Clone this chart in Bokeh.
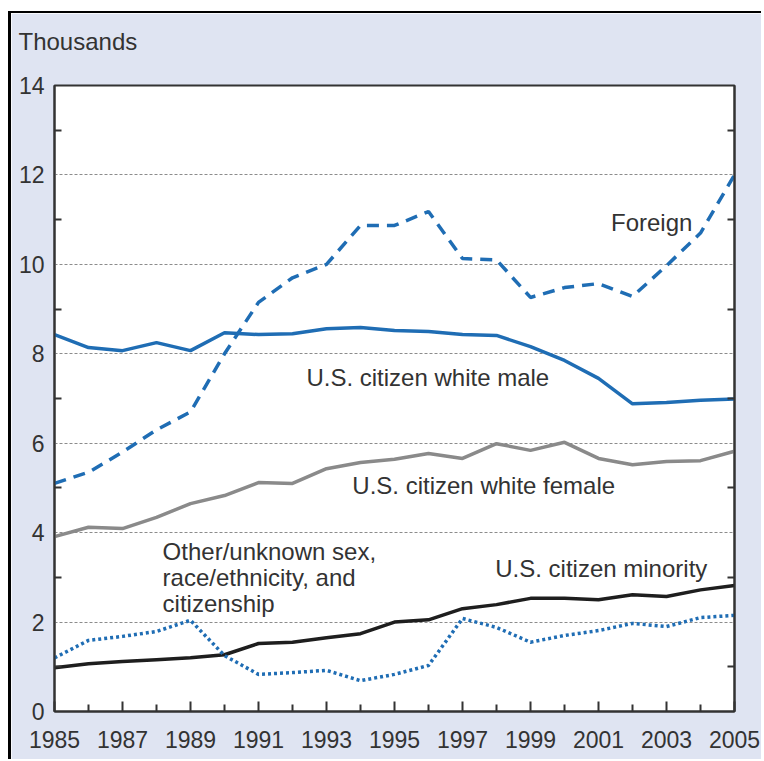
from bokeh.plotting import figure
from bokeh.models import FixedTicker, LinearAxis, Label, InlineStyleSheet
from bokeh.embed import file_html
from bokeh.resources import INLINE

years = list(range(1985, 2006))
foreign = [5.1, 5.35, 5.8, 6.3, 6.7, 8.0, 9.15, 9.7, 10.0, 10.87, 10.87, 11.18,
           10.13, 10.1, 9.26, 9.48, 9.57, 9.28, 9.97, 10.7, 12.0]
white_male = [8.43, 8.14, 8.07, 8.25, 8.07, 8.47, 8.43, 8.45, 8.56, 8.59, 8.52, 8.5,
              8.43, 8.41, 8.16, 7.85, 7.45, 6.88, 6.91, 6.96, 6.99]
white_female = [3.91, 4.12, 4.09, 4.34, 4.65, 4.83, 5.12, 5.1, 5.43, 5.57, 5.64, 5.77,
                5.66, 5.99, 5.84, 6.02, 5.66, 5.52, 5.59, 5.61, 5.82]
minority = [0.98, 1.07, 1.12, 1.16, 1.2, 1.27, 1.52, 1.55, 1.65, 1.74, 2.0, 2.05,
            2.3, 2.39, 2.53, 2.53, 2.5, 2.61, 2.57, 2.72, 2.82]
other = [1.2, 1.59, 1.68, 1.79, 2.04, 1.25, 0.83, 0.87, 0.92, 0.69, 0.83, 1.03,
         2.08, 1.88, 1.55, 1.7, 1.81, 1.97, 1.9, 2.1, 2.15]

x_major = [1985, 1987, 1989, 1991, 1993, 1995, 1997, 1999, 2001, 2003, 2005]
x_minor = [1986, 1988, 1990, 1992, 1994, 1996, 1998, 2000, 2002, 2004]
y_major = [0, 2, 4, 6, 8, 10, 12, 14]
y_minor = [1, 3, 5, 7, 9, 11, 13]
y_grid = [2, 4, 6, 8, 10, 12]

BLUE = "#1f6db4"
GRAY = "#8a8a8a"
BLACK = "#1e1e1e"
TXT = "#333333"
BG = "#dfe4f2"
FONT = "Liberation Sans"
FS = "24px"
TFS = "23px"

css = InlineStyleSheet(css=":host { margin-top: 11px; margin-left: 8px; border-top: 2px solid black; border-left: 3px solid black; }")

p = figure(width=753, height=748, x_range=(1985, 2005), y_range=(0, 14),
           output_backend="svg", toolbar_location=None,
           min_border_left=43, min_border_right=30, min_border_top=72, min_border_bottom=50,
           background_fill_color="white", border_fill_color=BG)
p.stylesheets = [css]
p.outline_line_color = "#333333"
p.outline_line_width = 2

p.title.text = "Thousands"
p.title.text_font = FONT
p.title.text_font_size = FS
p.title.text_font_style = "normal"
p.title.text_color = TXT
p.title.align = "left"
p.title.offset = -36
p.title.standoff = 0
p.title.padding = dict(left=0, right=0, top=0, bottom=31)

p.xgrid.visible = False
p.ygrid.ticker = FixedTicker(ticks=y_grid)
p.ygrid.grid_line_color = "#8c8c8c"
p.ygrid.grid_line_dash = "3 2"
p.ygrid.grid_line_width = 1

xa = p.xaxis[0]
xa.ticker = FixedTicker(ticks=x_major, minor_ticks=x_minor)
xa.major_tick_in = 10
xa.major_tick_out = 0
xa.minor_tick_in = 7
xa.minor_tick_out = 0
xa.major_label_standoff = 19

ya = p.yaxis[0]
ya.ticker = FixedTicker(ticks=y_major, minor_ticks=y_minor)
ya.major_tick_in = 0
ya.major_tick_out = 0
ya.minor_tick_in = 7
ya.minor_tick_out = 0
ya.major_label_standoff = 10

ra = LinearAxis(ticker=FixedTicker(ticks=[], minor_ticks=y_minor))
ra.major_tick_in = 0
ra.major_tick_out = 0
ra.minor_tick_in = 7
ra.minor_tick_out = 0
p.add_layout(ra, "right")

for ax in [xa, ya, ra]:
    ax.axis_line_color = "#333333"
    ax.axis_line_width = 2
    ax.major_tick_line_color = "#333333"
    ax.major_tick_line_width = 2
    ax.minor_tick_line_color = "#333333"
    ax.minor_tick_line_width = 2
    ax.major_label_text_font = FONT
    ax.major_label_text_font_size = TFS
    ax.major_label_text_color = TXT

p.line(years, white_female, line_color=GRAY, line_width=3.5)
p.line(years, minority, line_color=BLACK, line_width=3.5)
p.line(years, other, line_color=BLUE, line_width=3.5, line_dash="3 3")
p.line(years, white_male, line_color=BLUE, line_width=3.5)
p.line(years, foreign, line_color=BLUE, line_width=3.5, line_dash="12 8")

labels = [
    ("Foreign", 2003.76, 10.94, "right"),
    ("U.S. citizen white male", 1992.41, 7.47, "left"),
    ("U.S. citizen white female", 1993.76, 5.05, "left"),
    ("U.S. citizen minority", 2004.2, 3.2, "right"),
    ("Other/unknown sex,\nrace/ethnicity, and\ncitizenship", 1988.18, 3.0, "left"),
]
for t, lx, ly, al in labels:
    p.add_layout(Label(x=lx, y=ly, text=t, text_align=al, text_baseline="middle",
                       text_font=FONT, text_font_size=FS, text_color=TXT,
                       text_line_height=0.95))

open("out.html", "w").write(file_html(p, INLINE))
